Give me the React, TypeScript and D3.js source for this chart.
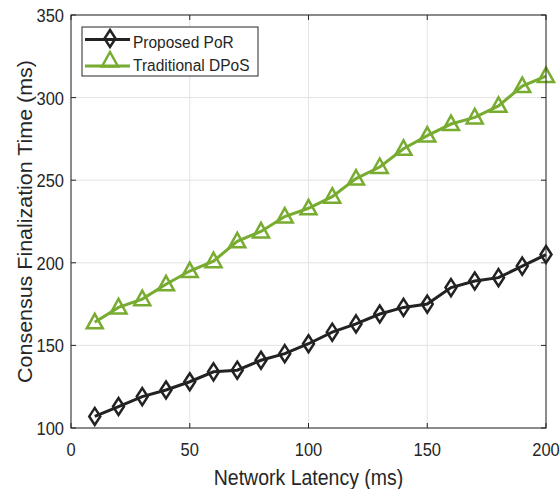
import React from "react";
import * as d3 from "d3";

const latency = [10, 20, 30, 40, 50, 60, 70, 80, 90, 100, 110, 120, 130, 140, 150, 160, 170, 180, 190, 200];
const porValues = [107, 113, 119, 123, 128, 134, 135, 141, 145, 151, 158, 163, 169, 173, 175, 185, 189, 191, 198, 205];
const dposValues = [164, 173, 178, 187, 195, 201, 213, 219, 228, 233, 240, 251, 258, 269, 277, 284, 288, 295, 307, 313];
const xTicks = [0, 50, 100, 150, 200];
const yTicks = [100, 150, 200, 250, 300, 350];
const seriesNames = ["Proposed PoR", "Traditional DPoS"];

const W = 560, H = 489;
const M = { left: 71, right: 14, top: 15, bottom: 61 };
const FONT = "'Liberation Sans', Arial, Helvetica, sans-serif";
const AXC = "#262626";
const BLACK = "#222222";
const GREEN = "#77ac30";
const SY = 1.1;

function T(props: { x: number; y: number; size: number; anchor?: string; rotate?: boolean; children: React.ReactNode }) {
  const { x, y, size, anchor, rotate, children } = props;
  const tr = rotate ? `translate(${x},${y}) rotate(-90) scale(${SY},1)` : `translate(${x},${y}) scale(1,${SY})`;
  return <text transform={tr} textAnchor={anchor || "start"} fontSize={size} fill={AXC}>{children}</text>;
}

export default function App() {
  const x = d3.scaleLinear().domain([0, 200]).range([M.left, W - M.right]);
  const y = d3.scaleLinear().domain([100, 350]).range([H - M.bottom, M.top]);
  const line = d3.line<[number, number]>().x(d => x(d[0])).y(d => y(d[1]));
  const por: [number, number][] = latency.map((l, i) => [l, porValues[i]]);
  const dpos: [number, number][] = latency.map((l, i) => [l, dposValues[i]]);
  const x0 = x.range()[0], x1 = x.range()[1], y0 = y.range()[0], y1 = y.range()[1];

  const diamond = (cx: number, cy: number, k: number) =>
    <path key={k} d={`M${cx},${cy - 8.5}L${cx + 5.5},${cy}L${cx},${cy + 8.5}L${cx - 5.5},${cy}Z`} fill="none" stroke={BLACK} strokeWidth={2.5} strokeLinejoin="miter" />;
  const tri = (cx: number, cy: number, k: number) =>
    <path key={k} d={`M${cx},${cy - 8.5}L${cx + 8},${cy + 6}L${cx - 8},${cy + 6}Z`} fill="none" stroke={GREEN} strokeWidth={2.5} strokeLinejoin="miter" />;

  return (
    <svg width={W} height={H} style={{ position: "absolute", left: 0, top: 0, background: "#fff" }} fontFamily={FONT}>
      {/* grid */}
      {xTicks.map(t => <line key={"gx" + t} x1={x(t)} x2={x(t)} y1={y0} y2={y1} stroke="#e3e3e3" strokeWidth={1} />)}
      {yTicks.map(t => <line key={"gy" + t} x1={x0} x2={x1} y1={y(t)} y2={y(t)} stroke="#e3e3e3" strokeWidth={1} />)}
      {/* series */}
      <path d={line(dpos) || ""} fill="none" stroke={GREEN} strokeWidth={3} />
      {dpos.map((d, i) => tri(x(d[0]), y(d[1]), i))}
      <path d={line(por) || ""} fill="none" stroke={BLACK} strokeWidth={3} />
      {por.map((d, i) => diamond(x(d[0]), y(d[1]), i))}
      {/* box */}
      <rect x={x0} y={y1} width={x1 - x0} height={y0 - y1} fill="none" stroke={AXC} strokeWidth={1} />
      {/* ticks */}
      {xTicks.map(t => <g key={"tx" + t}>
        <line x1={x(t)} x2={x(t)} y1={y0} y2={y0 - 5} stroke={AXC} />
        <line x1={x(t)} x2={x(t)} y1={y1} y2={y1 + 5} stroke={AXC} />
        <T x={x(t)} y={y0 + 28} size={16.5} anchor="middle">{t}</T>
      </g>)}
      {yTicks.map(t => <g key={"ty" + t}>
        <line x1={x0} x2={x0 + 5} y1={y(t)} y2={y(t)} stroke={AXC} />
        <line x1={x1} x2={x1 - 5} y1={y(t)} y2={y(t)} stroke={AXC} />
        <T x={x0 - 7} y={y(t) + 7} size={16.5} anchor="end">{t}</T>
      </g>)}
      {/* axis labels */}
      <T x={(x0 + x1) / 2} y={485} size={19.5} anchor="middle">Network Latency (ms)</T>
      <T x={32} y={(y0 + y1) / 2} size={19.5} anchor="middle" rotate>Consensus Finalization Time (ms)</T>
      {/* legend */}
      <rect x={82} y={27} width={176} height={49} fill="#fff" stroke={AXC} strokeWidth={1} />
      <line x1={85} x2={130} y1={39.5} y2={39.5} stroke={BLACK} strokeWidth={3} />
      {diamond(110, 38.5, 100)}
      <T x={133} y={47.5} size={15.5}>{seriesNames[0]}</T>
      <line x1={85} x2={130} y1={66} y2={66} stroke={GREEN} strokeWidth={3} />
      {tri(110, 60.5, 101)}
      <T x={133} y={70.5} size={15.5}>{seriesNames[1]}</T>
    </svg>
  );
}
